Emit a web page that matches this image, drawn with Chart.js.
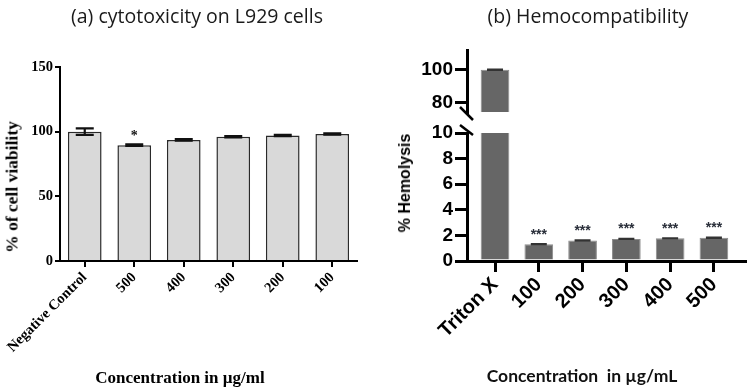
<!DOCTYPE html>
<html><head><meta charset="utf-8">
<script src="https://cdn.jsdelivr.net/npm/chart.js@4.4.0/dist/chart.umd.min.js"></script>
<style>
body{margin:0;background:#fff;}
#wrap{position:relative;width:749px;height:391px;overflow:hidden;background:#fff;}
canvas{position:absolute;top:0;}
.t{position:absolute;white-space:nowrap;transform:translate(-50%,-50%);color:#000;line-height:1;}
.r{transform:translate(-50%,-50%) rotate(-90deg);}
</style></head><body>
<div id="wrap">
<canvas id="cyto" width="375" height="391" style="left:0"></canvas>
<canvas id="hemoLow" width="374" height="391" style="left:375px"></canvas>
<canvas id="hemoHigh" width="374" height="391" style="left:375px"></canvas>
<div class="t" style="left:197px;top:15px;font:19.5px 'Open Sans';color:#1a1a1a">(a) cytotoxicity on L929 cells</div>
<div class="t" style="left:588px;top:15px;font:19.5px 'Open Sans';color:#1a1a1a">(b) Hemocompatibility</div>
<div class="t r" style="left:12px;top:187px;font:bold 17.5px 'Liberation Serif'">% of cell viability</div>
<div class="t" style="left:180px;top:378px;font:bold 17px 'Liberation Serif'">Concentration in µg/ml</div>
<div class="t r" style="left:405px;top:183px;font:bold 16px 'Liberation Sans'">% Hemolysis</div>
<div class="t" style="left:582px;top:375px;font:bold 17.5px 'Lato';color:#111">Concentration&nbsp; in µg/mL</div>
</div>
<script>
// ---- data ----
const cytoCategories = ['Negative Control', '500', '400', '300', '200', '100'];
const cytoValues = [100, 89.5, 93.6, 96.1, 97.0, 98.2];
const cytoErrors = [2.5, 0.6, 0.6, 0.5, 0.5, 0.5];
const cytoMarks = ['', '*', '', '', '', ''];
const cytoTicks = [0, 50, 100, 150];

const hemoCategories = ['Triton X', '100', '200', '300', '400', '500'];
const hemoValues = [100, 1.3, 1.6, 1.72, 1.77, 1.82];
const hemoErrors = [0.3, 0.04, 0.04, 0.03, 0.03, 0.04];
const hemoMarks = ['', '***', '***', '***', '***', '***'];
const hemoLowTicks = [0, 2, 4, 6, 8, 10];
const hemoHighTicks = [80, 100];

// ---- plugins ----
const errorBarPlugin = {
  id: 'errorBars',
  afterDatasetsDraw(chart, args, o) {
    if (!o || !o.values) return;
    const {ctx, chartArea: a} = chart;
    const ys = chart.scales.y;
    const meta = chart.getDatasetMeta(0);
    ctx.save();
    ctx.beginPath();
    ctx.rect(a.left, a.top, a.right - a.left, a.bottom - a.top);
    ctx.clip();
    ctx.strokeStyle = o.color; ctx.lineWidth = o.lineWidth;
    o.values.forEach((v, i) => {
      if (v == null) return;
      const el = meta.data[i]; if (!el) return;
      const e = o.errors[i];
      const yt = ys.getPixelForValue(v + e), yb = ys.getPixelForValue(v - e);
      const hw = o.capWidth / 2;
      ctx.beginPath();
      ctx.moveTo(el.x, yt); ctx.lineTo(el.x, yb);
      ctx.moveTo(el.x - hw, yt); ctx.lineTo(el.x + hw, yt);
      ctx.moveTo(el.x - hw, yb); ctx.lineTo(el.x + hw, yb);
      ctx.stroke();
      const m = o.marks && o.marks[i];
      if (m) {
        ctx.fillStyle = o.markColor; ctx.font = o.markFont;
        ctx.textAlign = 'center'; ctx.textBaseline = 'bottom';
        ctx.fillText(m, el.x, yt - o.markGap);
      }
    });
    ctx.restore();
  }
};
const breakPlugin = {
  id: 'axisBreak',
  afterDraw(chart, args, o) {
    if (!o || !o.where) return;
    const {ctx, chartArea: a} = chart;
    const x = a.left;
    ctx.save(); ctx.strokeStyle = '#000'; ctx.lineWidth = 2.5;
    ctx.beginPath();
    if (o.where === 'bottom') { ctx.moveTo(x - 7, a.bottom - 5); ctx.lineTo(x + 6, a.bottom + 8); }
    else { ctx.moveTo(x - 7, a.top - 8); ctx.lineTo(x + 6, a.top + 2); }
    ctx.stroke(); ctx.restore();
  }
};
Chart.register(errorBarPlugin, breakPlugin);

// ---- (a) cytotoxicity ----
const serifB = (s) => ({family: 'Liberation Serif', size: s, weight: 'bold'});
new Chart(document.getElementById('cyto'), {
  type: 'bar',
  data: { labels: cytoCategories, datasets: [{
    data: cytoValues, backgroundColor: '#d9d9d9', borderColor: '#2a2a2a', borderWidth: 1.5,
    categoryPercentage: 1, barPercentage: 0.68 }] },
  options: {
    responsive: false, animation: false,
    layout: { padding: { top: 67, right: 18, left: 0, bottom: 0 } },
    plugins: { legend: {display: false}, tooltip: {enabled: false},
      errorBars: { values: cytoValues, errors: cytoErrors, marks: cytoMarks, capWidth: 18, lineWidth: 2.2,
        color: '#111', markFont: 'bold 14px "Liberation Serif"', markColor: '#111', markGap: 1 } },
    scales: {
      x: { offset: true,
        grid: { offset: false, drawOnChartArea: false, drawTicks: true, tickLength: 6, color: '#000', lineWidth: 2 },
        border: { display: true, color: '#000', width: 2 },
        ticks: { font: serifB(14.5), color: '#000', minRotation: 45, maxRotation: 45, autoSkip: false, padding: 2 },
        afterFit: s => { s.height = 130; } },
      y: { min: 0, max: 150,
        afterBuildTicks: s => { s.ticks = cytoTicks.map(v => ({value: v})); },
        grid: { drawOnChartArea: false, tickLength: 5, color: '#000', lineWidth: 2 },
        border: { display: true, color: '#000', width: 2 },
        ticks: { font: serifB(14.5), color: '#000', padding: 2, autoSkip: false },
        afterFit: s => { s.width = 60; } }
    }
  }
});

// ---- (b) hemocompatibility ----
const sansB = (s) => ({family: 'Liberation Sans', size: s, weight: 'bold'});
const xMin = -0.64, xMax = 5.71;
const lowPoints = hemoValues.map((v, i) => ({x: i, y: v}));
const highPoints = hemoValues.map((v, i) => ({x: i, y: v > 10 ? v : null}));
const barStyle = { backgroundColor: '#666666', borderColor: '#8c8c8c', borderWidth: 1, categoryPercentage: 1, barPercentage: 0.655 };

new Chart(document.getElementById('hemoLow'), {
  type: 'bar',
  data: { datasets: [Object.assign({ data: lowPoints }, barStyle)] },
  options: {
    responsive: false, animation: false,
    layout: { padding: { top: 133, right: 4, left: 0, bottom: 0 } },
    plugins: { legend: {display: false}, tooltip: {enabled: false},
      axisBreak: { where: 'top' },
      errorBars: { values: hemoValues, errors: hemoErrors, marks: hemoMarks, capWidth: 16, lineWidth: 1.5,
        color: '#333', markFont: 'bold 14px "Liberation Sans"', markColor: '#2a2f3a', markGap: 2 } },
    scales: {
      x: { type: 'linear', min: xMin, max: xMax, offset: false,
        afterBuildTicks: s => { s.ticks = hemoCategories.map((c, i) => ({value: i})); },
        grid: { offset: false, drawOnChartArea: false, tickLength: 11, color: '#000', lineWidth: 3 },
        border: { display: true, color: '#000', width: 3 },
        ticks: { font: sansB(20), color: '#000', minRotation: 45, maxRotation: 45, autoSkip: false, padding: 1,
          callback: v => hemoCategories[v] },
        afterFit: s => { s.height = 130; } },
      y: { min: 0, max: 10,
        afterBuildTicks: s => { s.ticks = hemoLowTicks.map(v => ({value: v})); },
        grid: { drawOnChartArea: false, tickLength: 12, color: '#000', lineWidth: 3 },
        border: { display: true, color: '#000', width: 3 },
        ticks: { font: sansB(19), color: '#000', padding: 2, autoSkip: false },
        afterFit: s => { s.width = 92; } }
    }
  }
});

new Chart(document.getElementById('hemoHigh'), {
  type: 'bar',
  data: { datasets: [Object.assign({ data: highPoints }, barStyle)] },
  options: {
    responsive: false, animation: false,
    layout: { padding: { top: 50, right: 4, left: 0, bottom: 279 } },
    plugins: { legend: {display: false}, tooltip: {enabled: false},
      axisBreak: { where: 'bottom' },
      errorBars: { values: hemoValues.map(v => v > 10 ? v : null), errors: hemoErrors, marks: [], capWidth: 16, lineWidth: 1.5,
        color: '#333', markFont: '13px "Liberation Sans"', markColor: '#333', markGap: 2 } },
    scales: {
      x: { type: 'linear', min: xMin, max: xMax, offset: false, display: false },
      y: { min: 74.5, max: 112,
        afterBuildTicks: s => { s.ticks = hemoHighTicks.map(v => ({value: v})); },
        grid: { drawOnChartArea: false, tickLength: 12, color: '#000', lineWidth: 3 },
        border: { display: true, color: '#000', width: 3 },
        ticks: { font: sansB(19), color: '#000', padding: 2, autoSkip: false },
        afterFit: s => { s.width = 92; } }
    }
  }
});
</script>
</body></html>
